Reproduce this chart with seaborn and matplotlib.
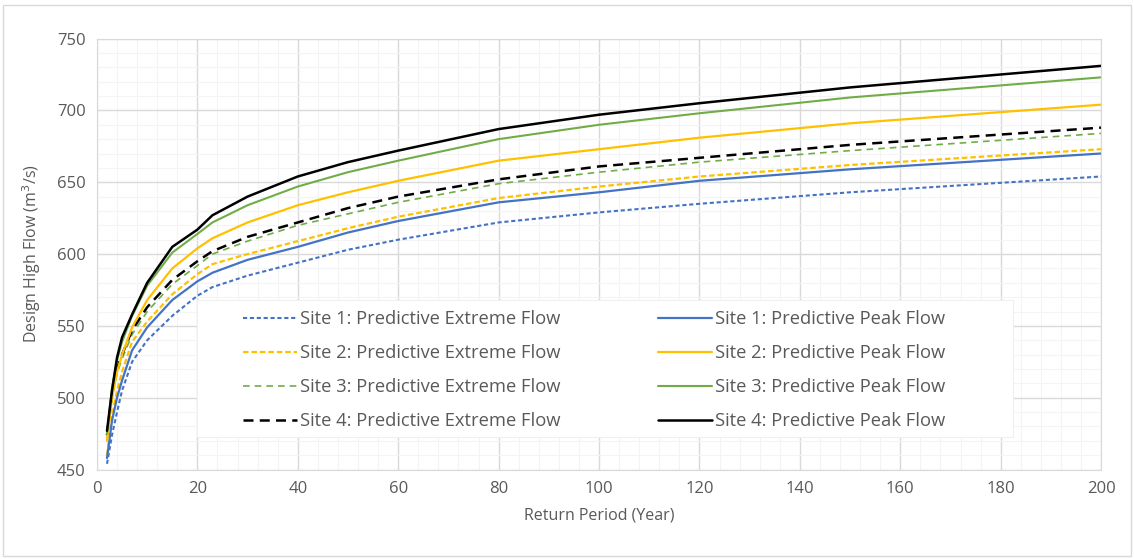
import numpy as np
import pandas as pd
import matplotlib
matplotlib.use("Agg")
import matplotlib.pyplot as plt
from matplotlib.patches import Rectangle
import seaborn as sns

return_period = [2, 3, 4, 5, 7, 10, 15, 20, 23, 30, 40, 50, 60, 80, 100, 120, 150, 200]

# design high flow (m3/s)
s1_extreme = [454, 474, 490, 505, 525, 540, 557, 571, 577, 585, 594, 603, 610, 622, 629, 635, 643, 654]
s2_extreme = [460, 487, 505, 518, 539, 553, 572, 586, 593, 600, 609, 618, 626, 639, 647, 654, 662, 673]
s3_extreme = [472, 500, 517, 527, 544, 560, 579, 592, 600, 609, 620, 628, 636, 649, 657, 664, 672, 684]
s4_extreme = [474, 503, 521, 530, 547, 563, 582, 595, 602, 612, 622, 632, 640, 652, 661, 667, 676, 688]
s1_peak = [458, 484, 500, 512, 533, 549, 568, 581, 587, 596, 605, 615, 623, 636, 643, 651, 659, 670]
s2_peak = [470, 500, 518, 530, 549, 568, 590, 604, 611, 622, 634, 643, 651, 665, 673, 681, 691, 704]
s3_peak = [475, 507, 526, 539, 557, 578, 601, 614, 622, 634, 647, 657, 665, 680, 690, 698, 709, 723]
s4_peak = [477, 505, 528, 542, 558, 580, 605, 617, 627, 640, 654, 664, 672, 687, 697, 705, 716, 731]

blue = "#4472C4"
yellow = "#FFC000"
green = "#70AD47"
black = "#000000"

series = [
    ("Site 1: Predictive Extreme Flow", s1_extreme, blue, (2, 1.3), 1.5),
    ("Site 2: Predictive Extreme Flow", s2_extreme, yellow, (2.5, 1.3), 1.6),
    ("Site 3: Predictive Extreme Flow", s3_extreme, green, (4, 3), 1.2),
    ("Site 4: Predictive Extreme Flow", s4_extreme, black, (4, 2.5), 1.8),
    ("Site 1: Predictive Peak Flow", s1_peak, blue, None, 1.6),
    ("Site 2: Predictive Peak Flow", s2_peak, yellow, None, 1.6),
    ("Site 3: Predictive Peak Flow", s3_peak, green, None, 1.5),
    ("Site 4: Predictive Peak Flow", s4_peak, black, None, 1.8),
]

sns.set_style("white")
plt.rcParams['font.family'] = ['Open Sans', 'DejaVu Sans']

fig = plt.figure(figsize=(11.34, 5.59), dpi=100)
ax = fig.add_axes([0.0855, 0.160, 0.8855, 0.771])

for label, vals, col, dash, lw in series:
    sns.lineplot(x=return_period, y=vals, ax=ax, color=col, linewidth=lw, label=label)
    l = ax.get_lines()[-1]
    if dash is not None:
        l.set_dashes(dash)

ax.set_xlim(0, 200)
ax.set_ylim(450, 750)
ax.set_xticks(np.arange(0, 201, 20))
ax.set_yticks(np.arange(450, 751, 50))
ax.set_xticks(np.arange(0, 201, 4), minor=True)
ax.set_yticks(np.arange(450, 751, 10), minor=True)
ax.grid(True, which='major', color='#d9d9d9', linewidth=1.0)
ax.grid(True, which='minor', color='#f4f4f4', linewidth=0.8)
ax.set_axisbelow(True)
for s in ax.spines.values():
    s.set_color('#d9d9d9')
ax.tick_params(which='both', length=0, labelsize=12, labelcolor='#595959', pad=8)

ax.set_xlabel('Return Period (Year)', fontsize=11.5, color='#595959', labelpad=8)
ax.set_ylabel('Design High Flow (m$^3$/s)', fontsize=11.5, color='#595959', labelpad=10)

# white box behind the legend
ax.add_patch(Rectangle((0.0996, 0.0756), 0.8128, 0.3174, transform=ax.transAxes,
                       facecolor='white', edgecolor='#f0f0f0', linewidth=0.8, zorder=4))

leg = ax.legend(loc='upper left', bbox_to_anchor=(0.1454, 0.370), ncol=2,
                fontsize=13.2, frameon=False, borderpad=0, borderaxespad=0,
                handlelength=2.95, columnspacing=5.3, labelspacing=0.87,
                handletextpad=0.17)
leg.set_zorder(5)
for t in leg.get_texts():
    t.set_color('#595959')

fig.patches.append(Rectangle((0.003, 0.006), 0.994, 0.985, transform=fig.transFigure,
                             fill=False, edgecolor='#d9d9d9', linewidth=1.0))

fig.savefig('out.png', dpi=100)
